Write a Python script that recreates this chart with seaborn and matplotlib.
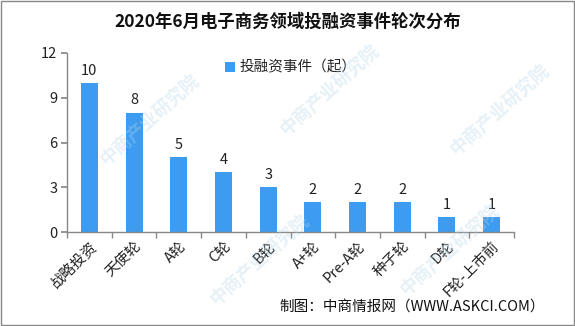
import matplotlib
matplotlib.use("Agg")
import matplotlib.pyplot as plt
import seaborn as sns
import pandas as pd
from matplotlib.ticker import FixedLocator
from matplotlib.patches import Rectangle

categories = ["战略投资", "天使轮", "A轮", "C轮", "B轮", "A+轮", "Pre-A轮", "种子轮", "D轮", "F轮-上市前"]
values = [10, 8, 5, 4, 3, 2, 2, 2, 1, 1]
yticks = [0, 3, 6, 9, 12]
title = "2020年6月电子商务领域投融资事件轮次分布"
legend_label = "投融资事件（起）"
source = "制图：中商情报网（WWW.ASKCI.COM）"
watermark = "中商产业研究院"

sns.set_theme(style="white")
plt.rcParams['font.family'] = ['Noto Sans CJK SC', 'DejaVu Sans']

df = pd.DataFrame({"cat": categories, "val": values})

fig = plt.figure(figsize=(5.75, 3.26), dpi=100)
ax = fig.add_axes([67/575, 1-232/326, (514-67)/575, (232-53)/326])

sns.barplot(data=df, x="cat", y="val", color="#3d9cf0", width=0.38, ax=ax,
            saturation=1, label=legend_label, linewidth=0)

for i, v in enumerate(values):
    ax.text(i, v + 0.35, str(v), ha="center", va="bottom", fontsize=10.5, color="#222222")

ax.set_ylim(0, 12)
ax.set_xlim(-0.5, len(categories) - 0.5)
ax.set_yticks(yticks)
ax.set_yticklabels([str(t) for t in yticks], fontsize=10.5, color="#222222")
ax.set_xlabel("")
ax.set_ylabel("")
ax.set_xticks(range(len(categories)))
ax.set_xticklabels(categories, rotation=45, ha="right", rotation_mode="anchor",
                   fontsize=10.5, color="#222222")
ax.tick_params(axis="x", which="major", length=0, pad=5)
ax.xaxis.set_minor_locator(FixedLocator([i - 0.5 for i in range(len(categories) + 1)]))
ax.tick_params(axis="x", which="minor", length=4, color="#888888", direction="out", bottom=True)
ax.tick_params(axis="y", length=4, color="#888888", direction="out", left=True, pad=3)

for s in ["top", "right"]:
    ax.spines[s].set_visible(False)
for s in ["left", "bottom"]:
    ax.spines[s].set_color("#888888")
    ax.spines[s].set_linewidth(1)

leg = ax.legend(loc="upper center", bbox_to_anchor=(0.5, 1.03), frameon=False,
                fontsize=10.5, handlelength=0.7, handleheight=0.7, handletextpad=0.3)

fig.text(0.5, 1 - 22/326, title, ha="center", va="center", fontsize=12.5,
         fontweight="bold", color="#111111")
fig.text(545/575, 1 - 307/326, source, ha="right", va="center", fontsize=10.5, color="#111111")

# watermarks (faint, diagonal)
for (px, py) in [(150, 120), (330, 90), (500, 110), (260, 260), (450, 250)]:
    fig.text(px/575, 1 - py/326, watermark, rotation=42, fontsize=13, color="#b5d6ea",
             alpha=0.35, ha="center", va="center", fontweight="bold", zorder=0)

fig.patches.append(Rectangle((0.001, 0.002), 0.997, 0.996, transform=fig.transFigure,
                             fill=False, edgecolor="#888888", linewidth=1))

fig.savefig("out.png", dpi=100)
